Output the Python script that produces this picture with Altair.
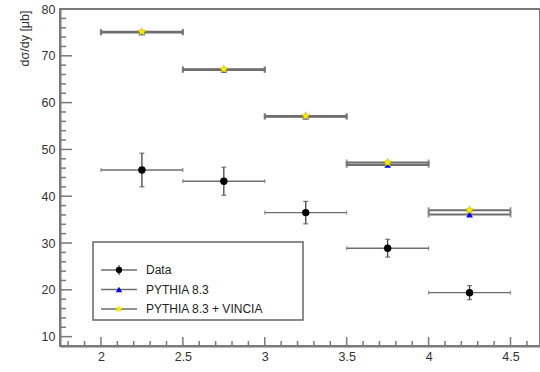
import altair as alt
import numpy as np
import pandas as pd

# Rapidity bins and measured / simulated cross sections
bin_lo = [2.0, 2.5, 3.0, 3.5, 4.0]
bin_hi = [2.5, 3.0, 3.5, 4.0, 4.5]
bin_mid = [2.25, 2.75, 3.25, 3.75, 4.25]
data_val = [45.6, 43.2, 36.5, 28.9, 19.4]
data_err = [3.6, 3.0, 2.4, 1.9, 1.5]
pythia_val = [75.0, 67.0, 57.0, 46.7, 36.1]
vincia_val = [75.1, 67.1, 57.1, 47.2, 37.0]

x_major = [2.0, 2.5, 3.0, 3.5, 4.0, 4.5]
y_major = [10, 20, 30, 40, 50, 60, 70, 80]

W, H = 480, 337
X_LO, X_HI, Y_LO, Y_HI = 1.75, 4.68, 8.0, 80.0
FONT = "Liberation Sans"
FRAME = "#7a7a7a"
BAR = "#6e6e6e"

xs = alt.Scale(domain=[X_LO, X_HI], nice=False, zero=False)
ys = alt.Scale(domain=[Y_LO, Y_HI], nice=False, zero=False)

x_axis = alt.Axis(values=x_major, format="~g", title=None, ticks=False, grid=False,
                  domainColor=FRAME, domainWidth=2, labelFont=FONT, labelFontSize=12.5,
                  labelColor="#333", labelPadding=4)
y_axis = alt.Axis(values=y_major, format="d", title="dσ/dy [μb]", ticks=False, grid=False,
                  domainColor=FRAME, domainWidth=2, labelFont=FONT, labelFontSize=12.5,
                  labelColor="#333", labelPadding=5, titleFont=FONT, titleFontSize=12.5,
                  titleFontWeight="normal", titleColor="#333", titleAngle=270,
                  titleX=-36, titleY=1, titleAlign="right", titleBaseline="middle")


def X(field, **kw):
    return alt.X(field, type="quantitative", scale=xs, axis=x_axis, **kw)


def Y(field, **kw):
    return alt.Y(field, type="quantitative", scale=ys, axis=y_axis, **kw)


bins = pd.DataFrame({
    "kind": "bin",
    "lo": bin_lo, "hi": bin_hi, "mid": bin_mid,
    "data": data_val,
    "dlo": [v - e for v, e in zip(data_val, data_err)],
    "dhi": [v + e for v, e in zip(data_val, data_err)],
    "pythia": pythia_val, "vincia": vincia_val,
})

# Inward-pointing frame ticks; pixel lengths converted to data units
px_x = (X_HI - X_LO) / W
px_y = (Y_HI - Y_LO) / H
x_tick_pos = [float(round(v, 1)) for v in np.arange(1.8, 4.65, 0.1)]
y_tick_pos = [float(v) for v in range(8, 81, 2)]
x_ticks = pd.DataFrame({
    "kind": "xt", "tx": x_tick_pos, "ty0": Y_LO,
    "ty1": [Y_LO + (9 if abs(v * 2 - round(v * 2)) < 1e-6 else 5) * px_y for v in x_tick_pos],
})
y_ticks = pd.DataFrame({
    "kind": "yt", "ty": y_tick_pos, "tx0": X_LO,
    "tx1": [X_LO + (12 if v % 10 == 0 else 6) * px_x for v in y_tick_pos],
})
table = pd.concat([bins, x_ticks, y_ticks], ignore_index=True)

src = alt.Chart(table)
base = src.transform_filter(alt.datum.kind == "bin")

layers = []

# Frame ticks
layers.append(src.transform_filter(alt.datum.kind == "xt").mark_rule(color=FRAME, strokeWidth=1.5).encode(
    x=X("tx"), y=Y("ty0"), y2="ty1"))
layers.append(src.transform_filter(alt.datum.kind == "yt").mark_rule(color=FRAME, strokeWidth=1.5).encode(
    y=Y("ty"), x=X("tx0"), x2="tx1"))

# Simulation bins: horizontal bars with end caps
for col in ["pythia", "vincia"]:
    layers.append(base.mark_rule(color=BAR, strokeWidth=2.2).encode(
        x=X("lo"), x2="hi", y=Y(col)))
    for edge in ["lo", "hi"]:
        layers.append(base.mark_tick(orient="vertical", color=BAR, size=6, thickness=2).encode(
            x=X(edge), y=Y(col)))

# Data: horizontal bin width, vertical uncertainty, caps
layers.append(base.mark_rule(color=BAR, strokeWidth=1.4).encode(x=X("lo"), x2="hi", y=Y("data")))
for edge in ["lo", "hi"]:
    layers.append(base.mark_tick(orient="vertical", color=BAR, size=4, thickness=1.2).encode(
        x=X(edge), y=Y("data")))
layers.append(base.mark_rule(color="#444", strokeWidth=1.3).encode(x=X("mid"), y=Y("dlo"), y2="dhi"))
for edge in ["dlo", "dhi"]:
    layers.append(base.mark_tick(orient="horizontal", color="#444", size=5, thickness=1.2).encode(
        x=X("mid"), y=Y(edge)))

# Markers
star = "M0,-1L0.29,-0.4L0.95,-0.31L0.47,0.15L0.59,0.81L0,0.5L-0.59,0.81L-0.47,0.15L-0.95,-0.31L-0.29,-0.4Z"
layers.append(base.mark_point(shape="triangle-up", filled=True, color="#0000ee", size=45, opacity=1).encode(
    x=X("mid"), y=Y("pythia")))
layers.append(base.mark_point(shape=star, filled=True, color="#f5ea00", size=75, opacity=1,
                              stroke="#b8a800", strokeWidth=0.5).encode(x=X("mid"), y=Y("vincia")))
layers.append(base.mark_point(shape="circle", filled=True, color="black", size=55, opacity=1).encode(
    x=X("mid"), y=Y("data")))

# Legend box
one = alt.Chart(pd.DataFrame({"k": [0]}))
leg_x0, leg_x1, leg_y0, leg_y1 = 33, 243, 233, 311
layers.append(one.mark_rect(fill="white", stroke="#666", strokeWidth=1.5).encode(
    x=alt.value(leg_x0), x2=alt.value(leg_x1), y=alt.value(leg_y0), y2=alt.value(leg_y1)))
entries = [
    ("Data", dict(shape="circle", color="black", size=40)),
    ("PYTHIA 8.3", dict(shape="triangle-up", color="#0000ee", size=40)),
    ("PYTHIA 8.3 + VINCIA", dict(shape=star, color="#f5ea00", size=60)),
]
for i, (label, style) in enumerate(entries):
    yy = 261 + 19.5 * i
    layers.append(one.mark_rule(color=BAR, strokeWidth=1.5).encode(
        x=alt.value(41), x2=alt.value(77), y=alt.value(yy)))
    if i == 0:
        layers.append(one.mark_rule(color="#444", strokeWidth=1.2).encode(
            x=alt.value(59), y=alt.value(yy - 5), y2=alt.value(yy + 5)))
    layers.append(one.mark_point(filled=True, opacity=1, **style).encode(
        x=alt.value(59), y=alt.value(yy)))
    layers.append(one.mark_text(text=label, align="left", baseline="middle", font=FONT,
                                fontSize=12, color="#222").encode(
        x=alt.value(86), y=alt.value(yy)))

chart = alt.layer(*layers).properties(
    width=W, height=H,
    background="white",
    autosize=alt.AutoSizeParams(type="none"),
    padding={"left": 60, "top": 9, "right": 0, "bottom": 26},
).configure_view(stroke=FRAME, strokeWidth=2)

chart.save("out.html", embed_options={"renderer": "svg", "actions": False})
